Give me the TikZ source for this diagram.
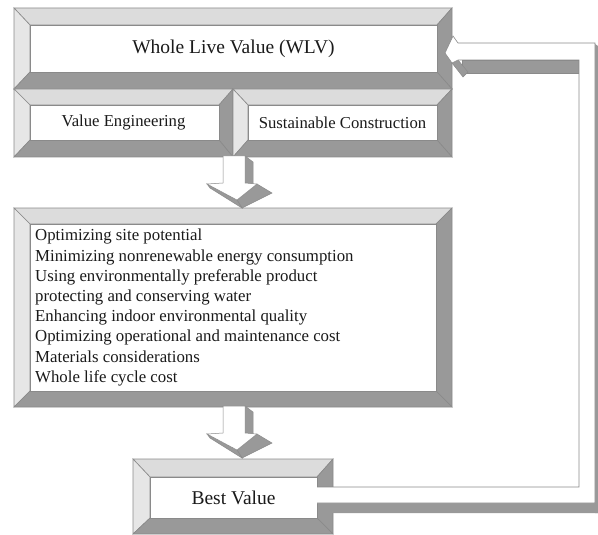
\documentclass[tikz,border=0pt]{standalone}
\usepackage{fontspec}
\setmainfont{Liberation Serif}
\definecolor{bvdark}{HTML}{999999}
\definecolor{bvlight}{HTML}{DCDCDC}
\definecolor{bvlighter}{HTML}{E6E6E6}
\definecolor{bvline}{HTML}{8A8A8A}
\definecolor{txt}{HTML}{1A1A1A}
\newcommand\bevbox[8]{%
  \filldraw[bvline,line width=0.6pt,fill=bvlight] (#1,#2)--(#3,#2)--(#7,#6)--(#5,#6)--cycle;
  \filldraw[bvline,line width=0.6pt,fill=bvlighter] (#1,#2)--(#5,#6)--(#5,#8)--(#1,#4)--cycle;
  \filldraw[bvline,line width=0.6pt,fill=bvdark] (#3,#2)--(#3,#4)--(#7,#8)--(#7,#6)--cycle;
  \filldraw[bvline,line width=0.6pt,fill=bvdark] (#1,#4)--(#3,#4)--(#7,#8)--(#5,#8)--cycle;
  \filldraw[bvline,line width=0.6pt,fill=white] (#5,#6) rectangle (#7,#8);
}
\newcommand\darrow[1]{%
  \begin{scope}[yshift=-#1pt]
  \filldraw[bvline,line width=0.5pt,fill=bvdark] (245,-1)--(253,5)--(253,27)--(245,26)--cycle;
  \filldraw[bvline,line width=0.5pt,fill=bvdark] (237,43)--(257,27)--(272,36)--(242,51)--cycle;
  \filldraw[bvline,line width=0.5pt,fill=bvdark] (207,27)--(237,43)--(242,51)--(210,31)--cycle;
  \filldraw[bvline,line width=0.5pt,fill=white] (223,-1)--(245,-1)--(245,26)--(257,27)--(237,43)--(207,27)--(223,26)--cycle;
  \end{scope}
}
\begin{document}
\begin{tikzpicture}[x=1pt,y=-1pt,
  bigtxt/.style={font=\fontsize{19.5}{22}\selectfont, text=txt, inner sep=0pt},
  midtxt/.style={font=\fontsize{16.7}{19}\selectfont, text=txt, inner sep=0pt},
  listtxt/.style={font=\fontsize{16.8}{20.2}\selectfont, text=txt, inner sep=0pt, align=left, anchor=north west}]
\useasboundingbox (0,0) rectangle (598,535);
% boxes
\bevbox{14}{8}{452}{89}{30}{25}{437}{72}
\bevbox{14}{89}{233}{157}{30}{105}{219}{140}
\bevbox{233}{89}{452}{157}{248}{105}{437}{140}
\bevbox{14}{208}{452}{407}{30}{224}{436}{391}
\bevbox{133}{459}{333}{534}{150}{477}{317}{518}
% texts
\node[bigtxt] (wlv) at (233.5,48.5) {Whole Live Value (WLV)};
\node[midtxt] (ve) at (123.5,122.5) {Value Engineering};
\node[midtxt] (sc) at (342.5,122.5) {Sustainable Construction};
\node[listtxt] (list) at (35,229) {Optimizing site potential\\
Minimizing nonrenewable energy consumption\\
Using environmentally preferable product\\
protecting and conserving water\\
Enhancing indoor environmental quality\\
Optimizing operational and maintenance cost\\
Materials considerations\\
Whole life cycle cost};
\node[bigtxt] (best) at (233.5,497.5) {Best Value};
% down arrows
\darrow{157}
\darrow{407}
% feedback arrow
\fill[bvdark] (317,503)--(598,503)--(598,513)--(330,513)--cycle;
\fill[bvdark] (595,44)--(598,46)--(598,513)--(595,513)--cycle;
\filldraw[bvline,line width=0.5pt,fill=bvdark] (462,60)--(579,60)--(579,73)--(462,73)--cycle;
\filldraw[bvline,line width=0.5pt,fill=bvdark] (452,63)--(458,60)--(468,72)--(463,77)--cycle;
\fill[white] (317,487)--(579,487)--(579,60)--(458,60)--(452,63)--(445,53)--(453,36)--(458,43)--(595,43)--(595,503)--(317,503)--cycle;
\draw[bvline,line width=0.6pt] (317,487)--(579,487)--(579,60)--(458,60)--(452,63)--(445,53)--(453,36)--(458,43)--(595,43)--(595,503)--(317,503);
\end{tikzpicture}
\end{document}
